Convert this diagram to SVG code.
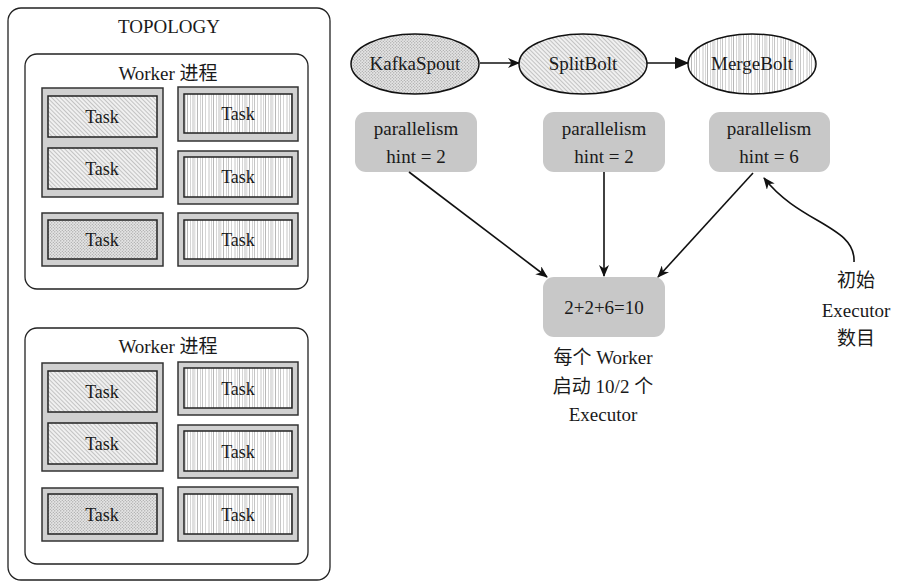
<svg xmlns="http://www.w3.org/2000/svg" width="900" height="588" viewBox="0 0 900 588">
<defs>
<pattern id="diag" patternUnits="userSpaceOnUse" width="3" height="3" patternTransform="rotate(-45)">
<rect width="3" height="3" fill="#f0f0f0"/>
<line x1="0.5" y1="0" x2="0.5" y2="3" stroke="#b0b0b0" stroke-width="0.7"/>
</pattern>
<pattern id="dots" patternUnits="userSpaceOnUse" width="3" height="3">
<rect width="3" height="3" fill="#e4e4e4"/>
<circle cx="0.8" cy="0.8" r="0.6" fill="#909090"/>
<circle cx="2.3" cy="2.3" r="0.6" fill="#a0a0a0"/>
</pattern>
<pattern id="vlines" patternUnits="userSpaceOnUse" width="26" height="10">
<rect width="26" height="10" fill="#ffffff"/>
<g stroke="#b8b8b8">
<line x1="1" y1="0" x2="1" y2="10" stroke-width="0.8"/>
<line x1="3.5" y1="0" x2="3.5" y2="10" stroke-width="0.6"/>
<line x1="5.5" y1="0" x2="5.5" y2="10" stroke-width="1"/>
<line x1="8.5" y1="0" x2="8.5" y2="10" stroke-width="0.6"/>
<line x1="11" y1="0" x2="11" y2="10" stroke-width="0.9"/>
<line x1="12.8" y1="0" x2="12.8" y2="10" stroke-width="0.6"/>
<line x1="15.5" y1="0" x2="15.5" y2="10" stroke-width="1"/>
<line x1="18.5" y1="0" x2="18.5" y2="10" stroke-width="0.6"/>
<line x1="20.5" y1="0" x2="20.5" y2="10" stroke-width="0.8"/>
<line x1="23.5" y1="0" x2="23.5" y2="10" stroke-width="0.6"/>
</g>
</pattern>
<marker id="barb" viewBox="0 0 12 10" refX="11" refY="5" markerWidth="12" markerHeight="10" markerUnits="userSpaceOnUse" orient="auto">
<path d="M0,0 L12,5 L0,10 L3.5,5 z" fill="#111"/>
</marker>
<marker id="tri" viewBox="0 0 14 12" refX="13" refY="6" markerWidth="14" markerHeight="12" markerUnits="userSpaceOnUse" orient="auto">
<path d="M0,0 L14,6 L0,12 z" fill="#111"/>
</marker>
</defs>
<style>
text{font-family:"Liberation Serif","Noto Sans CJK SC",serif;fill:#1a1a1a;text-anchor:middle;font-size:19px}
.task{font-size:18px}
.frame{fill:#fff;stroke:#222;stroke-width:1.3}
.grp{fill:#d0d0d0;stroke:#333;stroke-width:1.5}
.inner{stroke:#222;stroke-width:1.5}
.gbox{fill:#c8c8c8}
.conn{fill:none;stroke:#111;stroke-width:1.6}
</style>

<g id="topology">
<rect class="frame" x="8" y="8" width="322" height="572" rx="13"/>
<text x="169" y="33">TOPOLOGY</text>
</g>

<g id="worker1">
<rect class="frame" x="25" y="54" width="283" height="235" rx="12"/>
<text x="168" y="80">Worker 进程</text>
<rect class="grp" x="42" y="88" width="121" height="109"/>
<rect class="inner" fill="url(#diag)" x="48" y="96" width="109" height="41"/>
<text class="task" x="102" y="123">Task</text>
<rect class="inner" fill="url(#diag)" x="48" y="148" width="109" height="41"/>
<text class="task" x="102" y="175">Task</text>
<rect class="grp" x="42" y="213" width="121" height="53"/>
<rect class="inner" fill="url(#dots)" x="48" y="220" width="109" height="39"/>
<text class="task" x="102" y="246">Task</text>
<rect class="grp" x="178" y="87" width="120" height="54"/>
<rect class="inner" fill="url(#vlines)" x="184" y="94" width="108" height="39"/>
<text class="task" x="238" y="120">Task</text>
<rect class="grp" x="178" y="151" width="120" height="53"/>
<rect class="inner" fill="url(#vlines)" x="184" y="157" width="108" height="40"/>
<text class="task" x="238" y="183">Task</text>
<rect class="grp" x="178" y="213" width="120" height="53"/>
<rect class="inner" fill="url(#vlines)" x="184" y="220" width="108" height="39"/>
<text class="task" x="238" y="246">Task</text>
</g>

<g id="worker2">
<rect class="frame" x="25" y="328" width="283" height="236" rx="12"/>
<text x="168" y="353">Worker 进程</text>
<rect class="grp" x="42" y="363" width="121" height="108"/>
<rect class="inner" fill="url(#diag)" x="48" y="371" width="109" height="41"/>
<text class="task" x="102" y="398">Task</text>
<rect class="inner" fill="url(#diag)" x="48" y="423" width="109" height="41"/>
<text class="task" x="102" y="450">Task</text>
<rect class="grp" x="42" y="488" width="121" height="53"/>
<rect class="inner" fill="url(#dots)" x="48" y="494" width="109" height="40"/>
<text class="task" x="102" y="521">Task</text>
<rect class="grp" x="178" y="362" width="120" height="53"/>
<rect class="inner" fill="url(#vlines)" x="184" y="368" width="108" height="40"/>
<text class="task" x="238" y="395">Task</text>
<rect class="grp" x="178" y="425" width="120" height="53"/>
<rect class="inner" fill="url(#vlines)" x="184" y="431" width="108" height="40"/>
<text class="task" x="238" y="458">Task</text>
<rect class="grp" x="178" y="487" width="120" height="54"/>
<rect class="inner" fill="url(#vlines)" x="184" y="494" width="108" height="40"/>
<text class="task" x="238" y="521">Task</text>
</g>

<g id="kafkaspout">
<ellipse cx="415" cy="64" rx="64" ry="30" fill="url(#dots)" stroke="#111" stroke-width="1.5"/>
<text x="415" y="70">KafkaSpout</text>
</g>
<g id="splitbolt">
<ellipse cx="583" cy="64" rx="64" ry="30" fill="url(#diag)" stroke="#111" stroke-width="1.5"/>
<text x="583" y="70">SplitBolt</text>
</g>
<g id="mergebolt">
<ellipse cx="752" cy="64" rx="64" ry="30" fill="url(#vlines)" stroke="#111" stroke-width="1.5"/>
<text x="752" y="70">MergeBolt</text>
</g>

<g id="hint1">
<rect class="gbox" x="355" y="112" width="122" height="60" rx="11"/>
<text x="416" y="135">parallelism</text>
<text x="416" y="163">hint = 2</text>
</g>
<g id="hint2">
<rect class="gbox" x="543" y="112" width="122" height="60" rx="11"/>
<text x="604" y="135">parallelism</text>
<text x="604" y="163">hint = 2</text>
</g>
<g id="hint3">
<rect class="gbox" x="709" y="112" width="121" height="60" rx="11"/>
<text x="769" y="135">parallelism</text>
<text x="769" y="163">hint = 6</text>
</g>

<g id="total">
<rect class="gbox" x="543" y="277" width="122" height="60" rx="11"/>
<text x="604" y="314">2+2+6=10</text>
</g>

<g id="total-label">
<text x="603" y="364">每个 Worker</text>
<text x="603" y="393">启动 10/2 个</text>
<text x="603" y="421">Executor</text>
</g>

<g id="initial-label">
<text x="856" y="287">初始</text>
<text x="856" y="317">Executor</text>
<text x="856" y="345">数目</text>
</g>

<g id="connectors">
<line class="conn" x1="480" y1="63" x2="519" y2="63" marker-end="url(#barb)"/>
<line class="conn" x1="647" y1="63" x2="688" y2="63" stroke-width="2.4" marker-end="url(#tri)"/>
<line class="conn" x1="409" y1="172" x2="547" y2="277" marker-end="url(#barb)"/>
<line class="conn" x1="604" y1="172" x2="604" y2="276" marker-end="url(#barb)"/>
<line class="conn" x1="753" y1="173" x2="658" y2="277" marker-end="url(#barb)"/>
<path class="conn" d="M854,262 C856,226 800,224 764,178" marker-end="url(#barb)"/>
</g>
</svg>
